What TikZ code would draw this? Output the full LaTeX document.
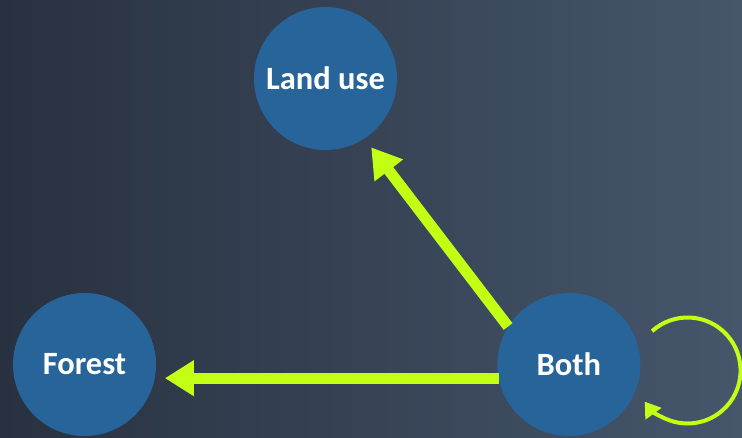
\documentclass[tikz,border=0pt]{standalone}
\usepackage{fontspec}
\setmainfont{Carlito}
\usepackage{tikz}
\usetikzlibrary{positioning}
\usetikzlibrary{arrows.meta}

\definecolor{bgleft}{HTML}{283140}
\definecolor{bgright}{HTML}{46566B}
\definecolor{bubblefill}{HTML}{27649A}
\definecolor{lime}{HTML}{C3FF14}

\tikzset{
    bubble/.style={circle, fill=bubblefill, minimum size=143pt, inner sep=0pt,
        text=white, font=\bfseries\fontsize{32.5pt}{36pt}\selectfont},
    bigarrow/.style={draw=lime, line width=11pt, -{Triangle[length=29pt, width=34pt]}},
    looparrow/.style={draw=lime, line width=4pt, -{Triangle[length=15pt, width=19pt]}}
}

\begin{document}
\begin{tikzpicture}

        \shade[left color=bgleft, right color=bgright] (0pt,0pt) rectangle (742pt,-437pt);
        \useasboundingbox (0pt,0pt) rectangle (742pt,-437pt);

        \node[bubble] (forest) at (84.5pt,-364.5pt) {Forest};
        \node[bubble, right=341pt of forest] (both) {Both};
        \node[bubble] (landuse) at (325.5pt,-78.5pt) {Land use};

        \draw[bigarrow, shorten >=10pt] (both.191) -- (forest.-11);
        \draw[bigarrow, shorten >=11pt] (both.148) -- (landuse.-57);
        \draw[looparrow] ([shift={(11.5pt,33.4pt)}]both.east) arc[start angle=132, end angle=-144, radius=53pt];

    \end{tikzpicture}
\end{document}
